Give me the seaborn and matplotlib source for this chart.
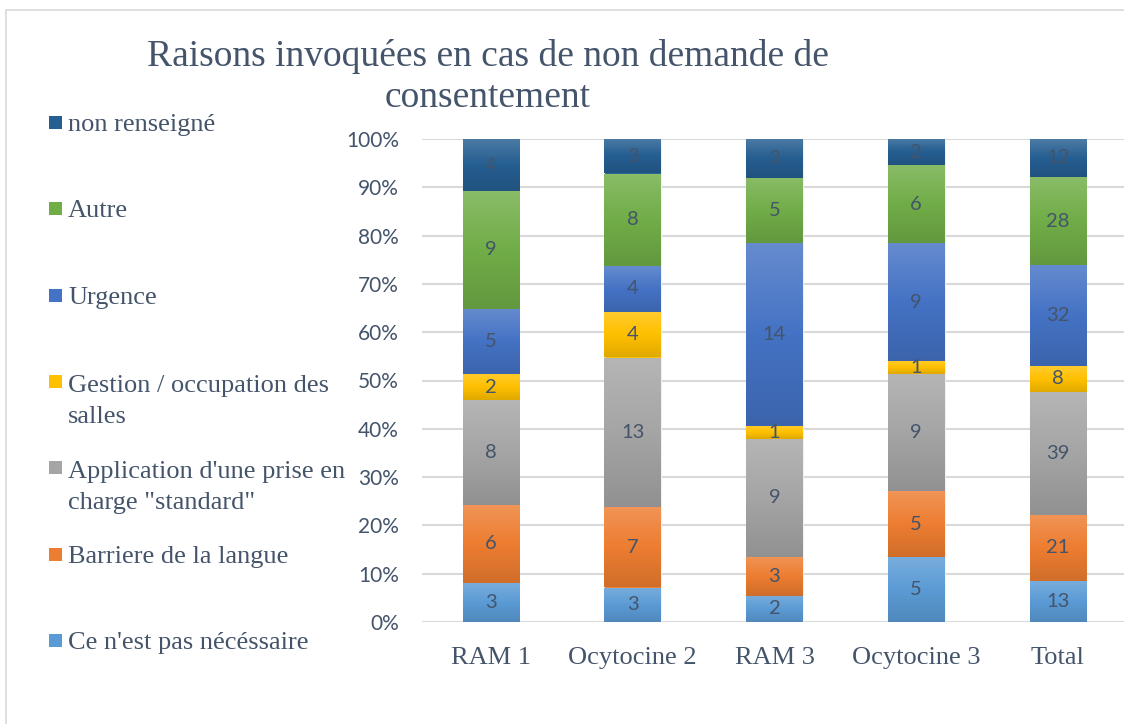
import numpy as np
import pandas as pd
import matplotlib
matplotlib.use("Agg")
import matplotlib.pyplot as plt
import matplotlib.colors as mcolors
from matplotlib.patches import Rectangle
import seaborn as sns

# Data (counts per reason and group)
groups = ["RAM 1", "Ocytocine 2", "RAM 3", "Ocytocine 3", "Total"]
reasons = ["Ce n'est pas nécéssaire", "Barriere de la langue",
           "Application d'une prise en\ncharge \"standard\"",
           "Gestion / occupation des\nsalles", "Urgence", "Autre", "non renseigné"]
pas_necessaire = [3, 3, 2, 5, 13]
barriere_langue = [6, 7, 3, 5, 21]
prise_standard = [8, 13, 9, 9, 39]
gestion_salles = [2, 4, 1, 1, 8]
urgence = [5, 4, 14, 9, 32]
autre = [9, 8, 5, 6, 28]
non_renseigne = [4, 3, 3, 2, 12]
colors = ["#5B9BD5", "#ED7D31", "#A5A5A5", "#FFC000", "#4472C4", "#70AD47", "#255E91"]

counts = pd.DataFrame([pas_necessaire, barriere_langue, prise_standard, gestion_salles,
                       urgence, autre, non_renseigne], index=reasons, columns=groups)
pct = counts / counts.sum(axis=0) * 100

text_col = "#44546A"
sns.set_style("white")

fig = plt.figure(figsize=(11.24, 7.24), dpi=100)
ax = fig.add_axes([422 / 1124, 102 / 724, 702 / 1124, 483 / 724])

# stacked 100% bars
bottom = np.zeros(len(groups))
for reason, color in zip(reasons, colors):
    sns.barplot(x=groups, y=pct.loc[reason].values, bottom=bottom, color=color,
                saturation=1, width=0.4, errorbar=None, ax=ax,
                edgecolor="#EEF1F6", linewidth=0.8, zorder=2)
    bottom = bottom + pct.loc[reason].values

# Excel-like vertical gradient inside each segment
for container, color, reason in zip(ax.containers, colors, reasons):
    base = np.array(mcolors.to_rgb(color))
    light = base + (1 - base) * 0.18
    dark = base * 0.88
    cmap = mcolors.LinearSegmentedColormap.from_list("g", [dark, base, light])
    grad = np.linspace(0, 1, 64).reshape(-1, 1)
    for bar in container:
        x0, y0 = bar.get_x(), bar.get_y()
        w, h = bar.get_width(), bar.get_height()
        im = ax.imshow(grad, extent=[x0, x0 + w, y0, y0 + h], origin="lower",
                       aspect="auto", cmap=cmap, zorder=2.5)
        im.set_clip_path(bar)
    ax.bar_label(container, labels=[str(v) for v in counts.loc[reason].values],
                 label_type="center", color=text_col, fontsize=14.5, family="Lato",
                 zorder=4)

ax.set_xlim(-0.487, 4.466)
ax.set_ylim(0, 100)
ax.set_yticks(np.arange(0, 101, 10))
ax.set_yticklabels([f"{v}%" for v in range(0, 101, 10)], family="Lato",
                   fontsize=15, color=text_col)
ax.set_xticks(range(len(groups)))
ax.set_xticklabels(groups, family="Liberation Serif", fontsize=19, color=text_col)
ax.tick_params(axis="y", length=0, pad=16.5)
ax.tick_params(axis="x", length=0, pad=18)
ax.set_xlabel("")
ax.set_ylabel("")
ax.yaxis.grid(True, color="#D9D9D9", linewidth=1.5, zorder=0)
ax.set_axisbelow(True)
for s in ax.spines.values():
    s.set_visible(False)

# title (va=baseline anchors the last line)
fig.text(488 / 1124, 1 - 107 / 724, "Raisons invoquées en cas de non demande de\nconsentement",
         ha="center", va="baseline", multialignment="center", linespacing=1.25,
         family="Liberation Serif", fontsize=27, color=text_col)

# legend on the left (top entry = last series)
for i, (reason, color) in enumerate(zip(reasons[::-1], colors[::-1])):
    yb = 131 + 86.3 * i
    nlines = reason.count("\n")
    fig.patches.append(Rectangle((49 / 1124, 1 - (yb - 2) / 724), 13 / 1124, 13 / 724,
                                 transform=fig.transFigure, facecolor=color,
                                 edgecolor="none"))
    fig.text(68 / 1124, 1 - (yb + 33 * nlines) / 724, reason, ha="left", va="baseline",
             linespacing=1.55, family="Liberation Serif", fontsize=19, color=text_col)

# chart border
fig.patches.append(Rectangle((6 / 1124, -0.1), 1.2, 1 - 10 / 724 + 0.1,
                             transform=fig.transFigure, facecolor="none",
                             edgecolor="#D9D9D9", linewidth=1.2))

fig.savefig("out.png", dpi=100)
